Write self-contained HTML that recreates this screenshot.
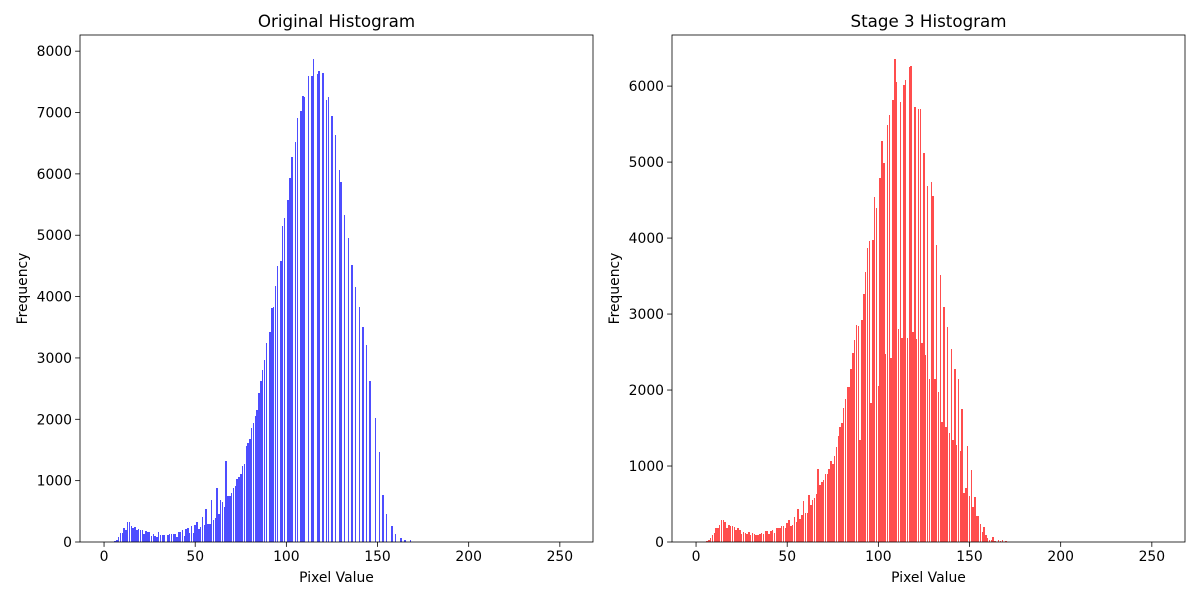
<!DOCTYPE html>
<html><head><meta charset="utf-8"><style>
body{margin:0;background:#fff;}
svg{display:block;font-family:"DejaVu Sans","Liberation Sans",sans-serif;}
</style></head><body>
<svg id="fig" width="1200" height="600" viewBox="0 0 1200 600"></svg>
<script>
const bins = Array.from({length:256},(_,i)=>i);
const origPairs = [[6,16],[7,33],[8,81],[9,147],[10,147],[11,228],[12,195],[13,326],[14,326],[15,260],[16,228],[17,244],[18,195],[19,212],[20,195],[21,195],[22,130],[23,179],[24,163],[25,163],[26,100],[27,130],[28,100],[29,81],[30,163],[31,114],[32,114],[33,114],[35,114],[36,130],[37,130],[38,130],[39,130],[40,81],[41,163],[42,168],[43,195],[44,98],[45,212],[46,233],[47,150],[48,260],[49,150],[50,277],[51,326],[52,212],[53,244],[54,407],[55,277],[56,537],[57,293],[58,293],[59,684],[60,358],[61,391],[62,880],[63,456],[64,684],[65,652],[66,570],[67,1319],[68,749],[69,749],[70,798],[71,880],[72,912],[73,1026],[74,1059],[75,1108],[76,1238],[77,1270],[78,1564],[79,1613],[80,1677],[81,1857],[82,1940],[83,2053],[84,2150],[85,2427],[86,2623],[87,2800],[88,2965],[89,3242],[91,3420],[92,3812],[93,3830],[94,4170],[95,4497],[97,4578],[98,5149],[99,5279],[101,5572],[102,5930],[103,6273],[105,6517],[106,6908],[108,7022],[109,7267],[110,7250],[112,7593],[114,7593],[115,7870],[117,7625],[118,7670],[120,7641],[122,7202],[123,7250],[125,6941],[127,6631],[129,6061],[130,5865],[132,5328],[134,4953],[136,4513],[138,4155],[140,3829],[142,3503],[144,3210],[146,2623],[149,2020],[151,1466],[153,766],[155,456],[158,261],[160,130],[163,65],[165,40],[168,40]];
const stagePairs = [[6,13],[7,26],[8,53],[9,92],[10,118],[11,184],[12,184],[13,224],[14,289],[15,289],[16,263],[17,184],[18,224],[19,211],[20,211],[21,197],[22,158],[23,184],[24,158],[25,105],[26,132],[27,118],[28,105],[29,132],[30,92],[31,118],[32,105],[33,92],[34,92],[35,105],[36,118],[37,105],[38,145],[39,145],[40,105],[41,145],[42,158],[43,118],[44,184],[45,184],[46,184],[47,211],[48,211],[49,184],[50,250],[51,289],[52,211],[53,224],[54,329],[55,263],[56,434],[57,303],[58,355],[59,540],[60,382],[61,382],[62,618],[63,487],[64,553],[65,579],[66,632],[67,961],[68,750],[69,789],[70,816],[71,895],[72,895],[73,961],[74,1066],[75,1026],[76,1132],[77,1250],[78,1395],[79,1513],[80,1566],[81,1763],[82,1882],[83,2039],[84,2039],[85,2276],[86,2487],[87,2658],[88,2855],[89,2842],[90,1342],[91,2921],[92,3263],[93,3553],[94,3868],[95,3960],[96,1829],[97,3974],[98,4540],[99,4395],[100,2053],[101,4790],[102,5276],[103,4987],[104,2474],[105,5487],[106,5618],[107,2421],[108,5816],[109,6355],[110,6053],[111,2803],[112,5789],[113,2684],[114,6013],[115,6079],[116,2684],[117,6250],[118,6263],[119,2763],[120,5724],[121,2671],[122,5697],[123,5697],[124,2618],[125,5118],[126,2461],[127,4684],[128,2145],[129,4737],[130,4553],[131,2145],[132,3908],[133,1974],[134,3513],[135,1579],[136,3092],[137,1513],[138,2829],[139,1434],[140,2539],[141,1342],[142,2276],[143,1276],[144,2150],[145,1197],[146,1750],[147,645],[148,711],[149,1263],[150,605],[151,947],[152,461],[153,592],[154,342],[155,342],[156,237],[157,132],[158,197],[159,92],[160,53],[161,26],[162,26],[163,66],[164,13],[166,26],[167,13],[168,26],[170,13]];
const xTicks = [0,50,100,150,200,250];
const yTicksOrig = [0,1000,2000,3000,4000,5000,6000,7000,8000];
const yTicksStage = [0,1000,2000,3000,4000,5000,6000];

function toArr(p){const a=new Array(256).fill(0);p.forEach(([b,v])=>a[b]=v);return a;}
const NS="http://www.w3.org/2000/svg";
const svg=document.getElementById('fig');
function mk(tag,attrs,parent){const e=document.createElementNS(NS,tag);for(const k in attrs)e.setAttribute(k,attrs[k]);(parent||svg).appendChild(e);return e;}

function panel(L,R,T,B,vals,color,title,yTicks,key){
  const g=mk('g',{});
  
  
  const xmin=-0.4-12.79, xmax=255.4+12.79;
  const ymax=Math.max(...vals)*1.05;
  const sx=v=>L+(v-xmin)/(xmax-xmin)*(R-L);
  const sy=v=>B-v/ymax*(B-T);
  const bars=mk('g',{'shape-rendering':'crispEdges'},g);
  
  
  bins.forEach((b,i)=>{const v=vals[i]; if(v<=0)return;
    const x0=Math.round(sx(b-0.4)),x1=Math.max(x0+1,Math.round(sx(b+0.4)));
    const y0=Math.round(sy(v));
    const r=mk('rect',{x:x0,y:y0,width:x1-x0,height:B-y0,fill:color},bars);
    
    
  });
  const fr=mk('rect',{x:L,y:T,width:R-L,height:B-T,fill:'none',stroke:'#000','stroke-width':0.8},g);
  
  
  xTicks.forEach(t=>{const x=sx(t);
    mk('line',{x1:x,x2:x,y1:B,y2:B+4.9,stroke:'#000','stroke-width':0.8},g);
    const tx=mk('text',{x:x,y:B+19,'text-anchor':'middle','font-size':'13.9px',fill:'#000'},g);
    tx.textContent=t;
    
    
  });
  yTicks.forEach(t=>{const y=sy(t);
    mk('line',{x1:L,x2:L-4.9,y1:y,y2:y,stroke:'#000','stroke-width':0.8},g);
    const tx=mk('text',{x:L-8,y:y+5,'text-anchor':'end','font-size':'13.9px',fill:'#000'},g);
    tx.textContent=t;
    
    
  });
  const ti=mk('text',{x:(L+R)/2,y:T-8,'text-anchor':'middle','font-size':'16.7px',fill:'#000'},g);
  ti.textContent=title;
  
  
  const xl=mk('text',{x:(L+R)/2,y:582,'text-anchor':'middle','font-size':'13.9px',fill:'#000'},g);
  xl.textContent='Pixel Value';
  
  
  const yx=key==='original'?27:619;
  const yl=mk('text',{x:yx,y:(T+B)/2,'text-anchor':'middle','font-size':'13.9px',fill:'#000',transform:`rotate(-90 ${yx} ${(T+B)/2})`},g);
  yl.textContent='Frequency';
  
  
}
panel(80,593,35,542,toArr(origPairs),'#4d4dff','Original Histogram',yTicksOrig,'original');
panel(672,1185,35,542,toArr(stagePairs),'#ff4d4d','Stage 3 Histogram',yTicksStage,'stage3');
</script>
</body></html>
